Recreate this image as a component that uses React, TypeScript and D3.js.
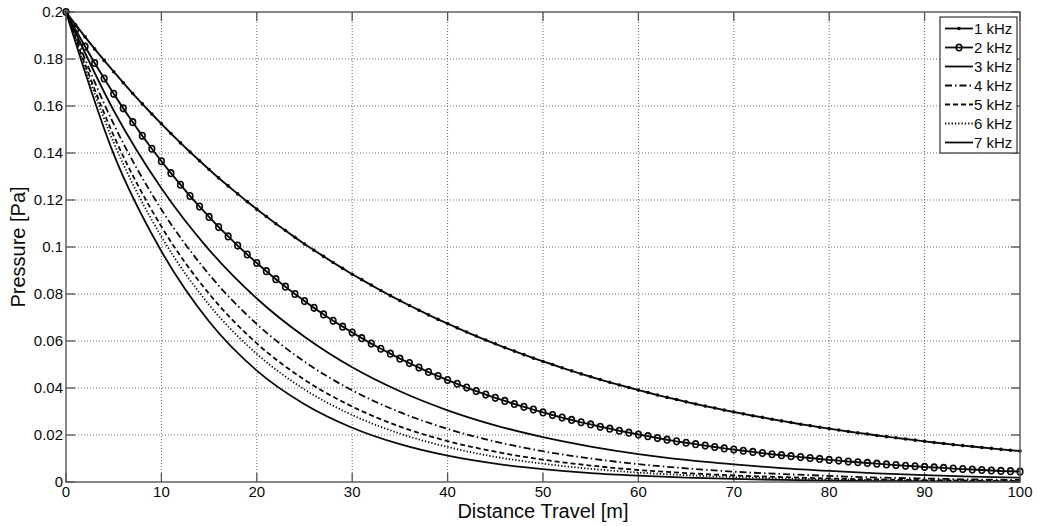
import React, { useEffect, useRef } from "react";
import * as d3 from "d3";

// distance axis (m)
const distFine = d3.range(0, 101);
const distCoarse = [0, 5, 10, 15, 20, 25, 30, 35, 40, 45, 50, 55, 60, 65, 70, 75, 80, 85, 90, 95, 100];

// pressure values (Pa)
const p1k = [
  0.2, 0.1946, 0.1894, 0.1843, 0.1794, 0.1746, 0.1699, 0.1653, 0.1609, 0.1566,
  0.1524, 0.1483, 0.1443, 0.1404, 0.1367, 0.133, 0.1294, 0.126, 0.1226, 0.1193,
  0.1161, 0.113, 0.1099, 0.107, 0.1041, 0.1013, 0.0986, 0.096, 0.0934, 0.0909,
  0.0884, 0.0861, 0.0838, 0.0815, 0.0793, 0.0772, 0.0751, 0.0731, 0.0711, 0.0692,
  0.0674, 0.0656, 0.0638, 0.0621, 0.0604, 0.0588, 0.0572, 0.0557, 0.0542, 0.0527,
  0.0513, 0.05, 0.0486, 0.0473, 0.046, 0.0448, 0.0436, 0.0424, 0.0413, 0.0402,
  0.0391, 0.0381, 0.037, 0.036, 0.0351, 0.0341, 0.0332, 0.0323, 0.0315, 0.0306,
  0.0298, 0.029, 0.0282, 0.0275, 0.0267, 0.026, 0.0253, 0.0246, 0.024, 0.0233,
  0.0227, 0.0221, 0.0215, 0.0209, 0.0204, 0.0198, 0.0193, 0.0188, 0.0183, 0.0178,
  0.0173, 0.0168, 0.0164, 0.0159, 0.0155, 0.0151, 0.0147, 0.0143, 0.0139, 0.0135,
  0.0132,
];
const p2k = [
  0.2, 0.1925, 0.1853, 0.1783, 0.1717, 0.1652, 0.159, 0.1531, 0.1473, 0.1418,
  0.1365, 0.1314, 0.1265, 0.1217, 0.1172, 0.1128, 0.1085, 0.1045, 0.1006, 0.0968,
  0.0932, 0.0897, 0.0863, 0.0831, 0.08, 0.077, 0.0741, 0.0713, 0.0686, 0.0661,
  0.0636, 0.0612, 0.0589, 0.0567, 0.0546, 0.0525, 0.0506, 0.0487, 0.0468, 0.0451,
  0.0434, 0.0418, 0.0402, 0.0387, 0.0372, 0.0358, 0.0345, 0.0332, 0.032, 0.0308,
  0.0296, 0.0285, 0.0274, 0.0264, 0.0254, 0.0245, 0.0235, 0.0227, 0.0218, 0.021,
  0.0202, 0.0195, 0.0187, 0.018, 0.0173, 0.0167, 0.0161, 0.0155, 0.0149, 0.0143,
  0.0138, 0.0133, 0.0128, 0.0123, 0.0118, 0.0114, 0.011, 0.0106, 0.0102, 0.0098,
  0.0094, 0.0091, 0.0087, 0.0084, 0.0081, 0.0078, 0.0075, 0.0072, 0.0069, 0.0067,
  0.0064, 0.0062, 0.006, 0.0057, 0.0055, 0.0053, 0.0051, 0.0049, 0.0047, 0.0046,
  0.0044,
];
const p3k = [0.2, 0.1581, 0.125, 0.0988, 0.0781, 0.0618, 0.0488, 0.0386, 0.0305, 0.0241, 0.0191, 0.0151, 0.0119, 0.0094, 0.0075, 0.0059, 0.0047, 0.0037, 0.0029, 0.0023, 0.0018];
const p4k = [0.2, 0.1523, 0.116, 0.0883, 0.0672, 0.0512, 0.039, 0.0297, 0.0226, 0.0172, 0.0131, 0.01, 0.0076, 0.0058, 0.0044, 0.0034, 0.0026, 0.0019, 0.0015, 0.0011, 0.0009];
const p5k = [0.2, 0.1474, 0.1087, 0.0801, 0.059, 0.0435, 0.0321, 0.0236, 0.0174, 0.0129, 0.0095, 0.007, 0.0051, 0.0038, 0.0028, 0.0021, 0.0015, 0.0011, 0.0008, 0.0006, 0.0004];
const p6k = [0.2, 0.1445, 0.1044, 0.0754, 0.0545, 0.0394, 0.0285, 0.0206, 0.0149, 0.0107, 0.0078, 0.0056, 0.004, 0.0029, 0.0021, 0.0015, 0.0011, 0.0008, 0.0006, 0.0004, 0.0003];
const p7k = [0.2, 0.1395, 0.0982, 0.0683, 0.0474, 0.0331, 0.0231, 0.0161, 0.0112, 0.0078, 0.0055, 0.0038, 0.0027, 0.0019, 0.0013, 0.0009, 0.0006, 0.0004, 0.0003, 0.0002, 0.0001];

const legendLabels = ["1 kHz", "2 kHz", "3 kHz", "4 kHz", "5 kHz", "6 kHz", "7 kHz"];
const xTicks = [0, 10, 20, 30, 40, 50, 60, 70, 80, 90, 100];
const yTicks = [0, 0.02, 0.04, 0.06, 0.08, 0.1, 0.12, 0.14, 0.16, 0.18, 0.2];
const yTickLabels = ["0", "0.02", "0.04", "0.06", "0.08", "0.1", "0.12", "0.14", "0.16", "0.18", "0.2"];

const FONT = "'Liberation Sans', Arial, Helvetica, sans-serif";
const INK = "#0a0a0a";

const App: React.FC = () => {
  const svgRef = useRef<SVGSVGElement | null>(null);

  useEffect(() => {
    const width = 1039;
    const height = 526;
    const margin = { top: 12, right: 19, bottom: 44, left: 66 };

    const svg = d3.select(svgRef.current);
    svg.selectAll("*").remove();
    svg.attr("width", width).attr("height", height);

    const x = d3.scaleLinear().domain([0, 100]).range([margin.left, width - margin.right]);
    const y = d3.scaleLinear().domain([0, 0.2]).range([height - margin.bottom, margin.top]);

    const x0 = x(0), x1 = x(100), y0 = y(0), y1 = y(0.2);

    svg.append("rect").attr("width", width).attr("height", height).attr("fill", "#fff");

    // grid
    const grid = svg.append("g").attr("stroke", "#707070").attr("stroke-width", 1).attr("stroke-dasharray", "1,2");
    xTicks.slice(1, -1).forEach(t => {
      grid.append("line").attr("x1", x(t)).attr("x2", x(t)).attr("y1", y0).attr("y2", y1);
    });
    yTicks.slice(1, -1).forEach(t => {
      grid.append("line").attr("x1", x0).attr("x2", x1).attr("y1", y(t)).attr("y2", y(t));
    });

    // ticks on all four sides, pointing in
    const tickLen = 9;
    const ticks = svg.append("g").attr("stroke", "#555").attr("stroke-width", 1.3);
    xTicks.forEach(t => {
      ticks.append("line").attr("x1", x(t)).attr("x2", x(t)).attr("y1", y0).attr("y2", y0 - tickLen);
      ticks.append("line").attr("x1", x(t)).attr("x2", x(t)).attr("y1", y1).attr("y2", y1 + tickLen);
    });
    yTicks.forEach(t => {
      ticks.append("line").attr("x1", x0).attr("x2", x0 + tickLen).attr("y1", y(t)).attr("y2", y(t));
      ticks.append("line").attr("x1", x1).attr("x2", x1 - tickLen).attr("y1", y(t)).attr("y2", y(t));
    });

    // curves
    const lineFine = d3.line<number>().x((_, i) => x(distFine[i])).y(d => y(d));
    const lineCoarse = d3.line<number>().x((_, i) => x(distCoarse[i])).y(d => y(d)).curve(d3.curveMonotoneX);

    const coarse = [
      { data: p3k, dash: null },
      { data: p4k, dash: "7,3,1.5,3" },
      { data: p5k, dash: "5,3" },
      { data: p6k, dash: "1.3,2" },
      { data: p7k, dash: null },
    ];
    coarse.forEach(s => {
      svg.append("path")
        .attr("d", lineCoarse(s.data))
        .attr("fill", "none")
        .attr("stroke", INK)
        .attr("stroke-width", 1.8)
        .attr("stroke-dasharray", s.dash);
    });

    [p2k, p1k].forEach(s => {
      svg.append("path")
        .attr("d", lineFine(s))
        .attr("fill", "none")
        .attr("stroke", INK)
        .attr("stroke-width", 1.9);
    });

    // markers
    svg.append("g").selectAll("ellipse")
      .data(p2k)
      .join("ellipse")
      .attr("cx", (_, i) => x(distFine[i]))
      .attr("cy", d => y(d))
      .attr("rx", 2.8)
      .attr("ry", 3.3)
      .attr("fill", "none")
      .attr("stroke", INK)
      .attr("stroke-width", 1.6);

    svg.append("g").selectAll("circle")
      .data(p1k)
      .join("circle")
      .attr("cx", (_, i) => x(distFine[i]))
      .attr("cy", d => y(d))
      .attr("r", 1.8)
      .attr("fill", INK);

    // axes box
    svg.append("rect")
      .attr("x", x0).attr("y", y1)
      .attr("width", x1 - x0).attr("height", y0 - y1)
      .attr("fill", "none")
      .attr("stroke", "#555")
      .attr("stroke-width", 1.4);

    // tick labels
    svg.append("g").selectAll("text")
      .data(xTicks)
      .join("text")
      .attr("x", d => x(d))
      .attr("y", y0 + 15)
      .attr("text-anchor", "middle")
      .attr("font-family", FONT)
      .attr("font-size", 15)
      .attr("fill", INK)
      .text(d => String(d));

    svg.append("g").selectAll("text")
      .data(yTicks)
      .join("text")
      .attr("x", x0 - 3)
      .attr("y", d => y(d) + 5)
      .attr("text-anchor", "end")
      .attr("font-family", FONT)
      .attr("font-size", 15)
      .attr("fill", INK)
      .text((_, i) => yTickLabels[i]);

    // axis titles
    svg.append("text")
      .attr("x", (x0 + x1) / 2)
      .attr("y", 518)
      .attr("text-anchor", "middle")
      .attr("font-family", FONT)
      .attr("font-size", 20)
      .attr("fill", INK)
      .text("Distance Travel [m]");

    svg.append("text")
      .attr("transform", `translate(25,${(y0 + y1) / 2}) rotate(-90)`)
      .attr("text-anchor", "middle")
      .attr("font-family", FONT)
      .attr("font-size", 20)
      .attr("fill", INK)
      .text("Pressure [Pa]");

    // legend
    const legend = svg.append("g");
    legend.append("rect")
      .attr("x", 940).attr("y", 17)
      .attr("width", 77).attr("height", 136)
      .attr("fill", "#fff")
      .attr("stroke", "#333")
      .attr("stroke-width", 1.2);

    const legendDash = [null, null, null, "7,3,1.5,3", "5,3", "1.3,2", null];
    legendLabels.forEach((label, i) => {
      const ly = 28.5 + i * 19;
      legend.append("line")
        .attr("x1", 945).attr("x2", 973)
        .attr("y1", ly).attr("y2", ly)
        .attr("stroke", INK)
        .attr("stroke-width", 1.8)
        .attr("stroke-dasharray", legendDash[i]);
      if (i === 0) {
        legend.append("circle").attr("cx", 959).attr("cy", ly).attr("r", 1.8).attr("fill", INK);
      }
      if (i === 1) {
        legend.append("ellipse").attr("cx", 959).attr("cy", ly).attr("rx", 2.8).attr("ry", 3.3)
          .attr("fill", "none").attr("stroke", INK).attr("stroke-width", 1.6);
      }
      legend.append("text")
        .attr("x", 974)
        .attr("y", ly + 5.5)
        .attr("font-family", FONT)
        .attr("font-size", 15)
        .attr("fill", INK)
        .text(label);
    });
  }, []);

  return <svg ref={svgRef} style={{ position: "absolute", left: 0, top: 0, display: "block" }}></svg>;
};

export default App;
